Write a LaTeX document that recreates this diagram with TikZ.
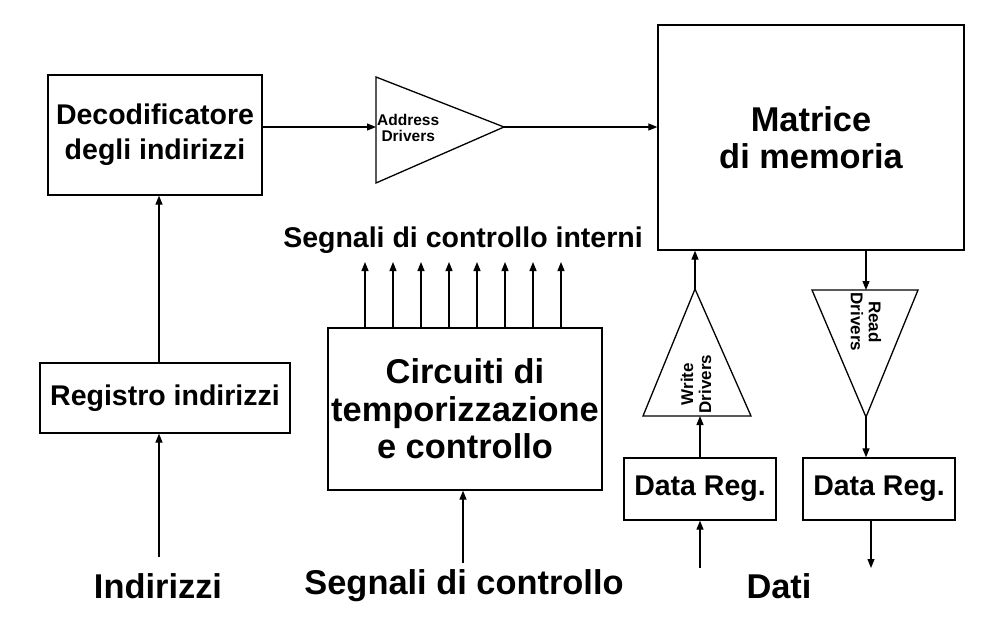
\documentclass[tikz,border=0pt]{standalone}
\usepackage{fontspec}
\setmainfont{Liberation Sans}
\usetikzlibrary{arrows.meta,positioning}

\newcommand{\bigfont}{\bfseries\fontsize{34.4}{37.5}\selectfont}
\newcommand{\medfont}{\bfseries\fontsize{28.5}{35}\selectfont}
\newcommand{\smallfont}{\bfseries\fontsize{15.5}{16.5}\selectfont}
\newcommand{\sidefont}{\bfseries\fontsize{17}{18}\selectfont}

\tikzset{
  box/.style={draw,line width=1.3pt,inner sep=0pt,align=center,font=\medfont},
  label/.style={inner sep=0pt,font=\bigfont},
  sig/.style={-{Triangle[length=9pt,width=7pt]},line width=1.2pt},
  amp/.style={draw,line width=1.3pt,line join=miter},
}

\begin{document}
\begin{tikzpicture}[x=1pt,y=-1pt]
  \useasboundingbox (0,0) rectangle (990,624);

  % blocks
  \node[box,minimum width=214pt,minimum height=120pt] (dec) at (155,135) {Decodificatore\\degli indirizzi};
  \node[box,minimum width=250pt,minimum height=70pt] (reg) at (165,398) {Registro indirizzi};
  \node[box,minimum width=306pt,minimum height=225pt,font=\bigfont] (mat) at (811,137.5) {Matrice\\di memoria};
  \node[box,minimum width=274pt,minimum height=162pt,font=\bigfont] (circ) at (465,409) {Circuiti di\\temporizzazione\\e controllo};
  \node[box,minimum width=152pt,minimum height=62pt] (dw) at (700,489) {Data Reg.};
  \node[box,minimum width=152pt,minimum height=62pt] (dr) at (879,489) {Data Reg.};

  % labels
  \node[label] (ind) at (158,586) {Indirizzi};
  \node[label] (ctl) at (464,586) {Segnali di controllo};
  \node[label] (dati) at (779,586) {Dati};
  \node[inner sep=0pt,font=\medfont] (sci) at (463,240) {Segnali di controllo interni};

  % address drivers
  \coordinate (ad top) at (376,77);
  \coordinate (ad bot) at (376,183);
  \coordinate (ad tip) at (504,127);
  \draw[amp] (ad top) -- (ad tip) -- (ad bot) -- cycle;
  \node[inner sep=0pt,align=center,anchor=west,font=\smallfont] (adtext) at (377,128) {Address\\Drivers};

  % write drivers
  \coordinate (wd tip) at (695,289);
  \coordinate (wd l) at (643,416);
  \coordinate (wd r) at (751,416);
  \draw[amp] (wd tip) -- (wd r) -- (wd l) -- cycle;
  \node[inner sep=0pt,align=center,rotate=90,font=\sidefont] (wdtext) at (696,384) {Write\\Drivers};

  % read drivers
  \coordinate (rd tip) at (866,417);
  \coordinate (rd l) at (812,290);
  \coordinate (rd r) at (918,290);
  \draw[amp] (rd l) -- (rd r) -- (rd tip) -- cycle;
  \node[inner sep=0pt,align=center,rotate=-90,font=\sidefont] (rdtext) at (866,322) {Read\\Drivers};

  % address path
  \coordinate (ind in) at (159,557);
  \draw[sig] (ind in) -- (ind in |- reg.south);
  \draw[sig] (ind in |- reg.north) -- (ind in |- dec.south);
  \draw[sig] (dec.east |- ad tip) -- (ad top |- ad tip);
  \draw[sig] (ad tip) -- (ad tip -| mat.west);

  % control
  \coordinate (ctl in) at (463,563);
  \draw[sig] (ctl in) -- (ctl in |- circ.south);
  \foreach \x in {365,393,...,561} { % internal signals
    \coordinate (s\x) at (\x,262);
    \draw[sig] (circ.north -| s\x) -- (s\x);
  }

  % data path
  \coordinate (w in) at (700,568);
  \coordinate (r out) at (871,568);
  \draw[sig] (w in) -- (w in |- dw.south);
  \draw[sig] (dw.north) -- (dw.north |- wd l);
  \draw[sig] (wd tip) -- (wd tip |- mat.south);
  \draw[sig] (mat.south -| rd tip) -- (rd tip |- rd l);
  \draw[sig] (rd tip) -- (rd tip |- dr.north);
  \draw[sig] (r out |- dr.south) -- (r out);
\end{tikzpicture}
\end{document}
